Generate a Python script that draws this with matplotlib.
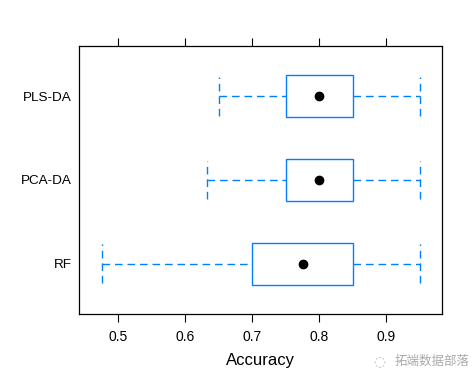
import matplotlib
matplotlib.use("Agg")
import matplotlib.pyplot as plt

plt.rcParams['font.family'] = ['Liberation Sans', 'Noto Sans CJK SC', 'DejaVu Sans']

models = ["RF", "PCA-DA", "PLS-DA"]
mins = [0.475, 0.632, 0.65]
q1s = [0.70, 0.75, 0.75]
medians = [0.775, 0.80, 0.80]
q3s = [0.85, 0.85, 0.85]
maxs = [0.95, 0.95, 0.95]
xticks = [0.5, 0.6, 0.7, 0.8, 0.9]

blue = "#0080ff"
fig = plt.figure(figsize=(4.74, 3.82), dpi=100)
ax = fig.add_axes([0.1673, 0.178, 0.7652, 0.7016])

bh = 0.25
ch = 0.23
dash = (0, (5.5, 3.5))
for i, m in enumerate(models):
    y = i + 1
    ax.add_patch(plt.Rectangle((q1s[i], y - bh), q3s[i] - q1s[i], 2 * bh,
                               fill=False, edgecolor=blue, lw=1.0))
    ax.plot([mins[i], q1s[i]], [y, y], color=blue, lw=1.0, linestyle=dash)
    ax.plot([q3s[i], maxs[i]], [y, y], color=blue, lw=1.0, linestyle=dash)
    ax.plot([mins[i], mins[i]], [y - ch, y + ch], color=blue, lw=1.0, linestyle=dash)
    ax.plot([maxs[i], maxs[i]], [y - ch, y + ch], color=blue, lw=1.0, linestyle=dash)
    ax.plot(medians[i], y, 'o', color='black', markersize=6)

rng = max(maxs) - min(mins)
ax.set_xlim(min(mins) - 0.07 * rng, max(maxs) + 0.07 * rng)
ax.set_ylim(0.4, 3.6)
ax.set_yticks([1, 2, 3])
ax.set_yticklabels(models, fontsize=9.7)
ax.set_xticks(xticks)
ax.set_xticklabels([str(t) for t in xticks], fontsize=10)
ax.tick_params(axis='y', length=0, pad=5.5)
ax.tick_params(axis='x', direction='out', length=5.8, width=0.8, pad=5.5,
               top=True, labeltop=False)
ax.set_xlabel("Accuracy", fontsize=12, labelpad=7)
for s in ax.spines.values():
    s.set_linewidth(0.9)

fig.text(0.99, 0.055, "拓端数据部落", ha='right', va='center', fontsize=9,
         color='#aaaaaa', family=['Noto Sans CJK SC', 'DejaVu Sans'])
fig.text(0.80, 0.055, "◌", ha='center', va='center', fontsize=10,
         color='#bbbbbb', family=['DejaVu Sans'])

fig.savefig("out.png", dpi=100)
